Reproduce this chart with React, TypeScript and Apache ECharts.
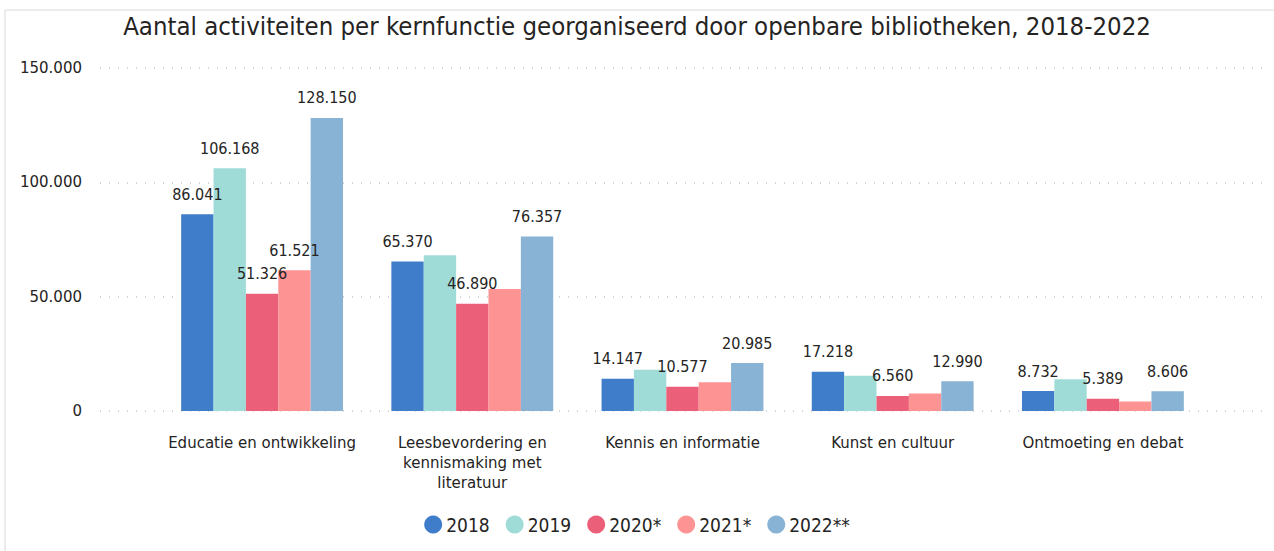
import React, { useEffect, useRef } from "react";
import * as echarts from "echarts";

const title = "Aantal activiteiten per kernfunctie georganiseerd door openbare bibliotheken, 2018-2022";
const categories = [
  "Educatie en ontwikkeling",
  "Leesbevordering en\nkennismaking met\nliteratuur",
  "Kennis en informatie",
  "Kunst en cultuur",
  "Ontmoeting en debat",
];
const seriesNames = ["2018", "2019", "2020*", "2021*", "2022**"];
const v2018 = [86041, 65370, 14147, 17218, 8732];
const v2019 = [106168, 68100, 18000, 15400, 13900];
const v2020 = [51326, 46890, 10577, 6560, 5389];
const v2021 = [61521, 53400, 12600, 7600, 4100];
const v2022 = [128150, 76357, 20985, 12990, 8606];
const seriesValues = [v2018, v2019, v2020, v2021, v2022];
// which data labels are shown per category (the reference hides overlapping ones)
const labelShown = [
  [true, true, true, true, true],
  [true, false, true, false, true],
  [true, false, true, false, true],
  [true, false, true, false, true],
  [true, false, true, false, true],
];
const yTicks = [0, 50000, 100000, 150000];
const colors = ["#3F7CC9", "#A0DCD7", "#EC5F78", "#FE9393", "#89B3D4"];

const fmt = (n: number) => String(Math.round(n)).replace(/\B(?=(\d{3})+(?!\d))/g, ".");

export default function App() {
  const ref = useRef<HTMLDivElement>(null);
  useEffect(() => {
    if (!ref.current) return;
    const chart = echarts.init(ref.current, null, { renderer: "svg" });
    const yMax = yTicks[yTicks.length - 1];
    const yInterval = yTicks[1] - yTicks[0];
    chart.setOption({
      animation: false,
      backgroundColor: "#ffffff",
      graphic: [
        { type: "line", shape: { x1: 5, y1: 10, x2: 1274, y2: 10 }, style: { stroke: "#E6E6E6", lineWidth: 1.5 }, silent: true },
        { type: "line", shape: { x1: 5, y1: 10, x2: 5, y2: 551 }, style: { stroke: "#E6E6E6", lineWidth: 1.5 }, silent: true },
      ],
      title: {
        text: title,
        left: "center",
        top: 8,
        textStyle: { fontFamily: "DejaVu Sans Condensed", fontSize: 25.5, fontWeight: "normal", color: "#252423" },
      },
      legend: {
        data: seriesNames,
        bottom: 12,
        left: "center",
        icon: "circle",
        itemWidth: 18,
        itemHeight: 18,
        itemGap: 16,
        textStyle: { fontFamily: "DejaVu Sans Condensed", fontSize: 19, color: "#252423", padding: [0, 0, 0, -1] },
      },
      grid: [
        { left: 157, right: 66, top: 68, bottom: 140 },
        { left: 100, right: 4, top: 68, bottom: 140 },
      ],
      xAxis: [
        {
          type: "category",
          gridIndex: 0,
          data: categories,
          axisLine: { show: false },
          axisTick: { show: false },
          axisLabel: {
            margin: 22,
            fontFamily: "DejaVu Sans",
            fontSize: 15,
            lineHeight: 20,
            color: "#252423",
            interval: 0,
          },
        },
        { type: "category", gridIndex: 1, data: [], show: false },
      ],
      yAxis: [
        { type: "value", gridIndex: 0, min: 0, max: yMax, interval: yInterval, show: false },
        {
          type: "value",
          gridIndex: 1,
          min: 0,
          max: yMax,
          interval: yInterval,
          axisLine: { show: false },
          axisTick: { show: false },
          axisLabel: {
            margin: 18,
            fontFamily: "DejaVu Sans",
            fontSize: 15,
            color: "#252423",
            formatter: (v: number) => fmt(v),
          },
          splitLine: { lineStyle: { color: "#C8C8C8", type: [1, 8], width: 1.5 } },
        },
      ],
      series: seriesNames.map((name, si) => ({
        name,
        type: "bar",
        xAxisIndex: 0,
        yAxisIndex: 0,
        barGap: "0%",
        barCategoryGap: "23%",
        itemStyle: { color: colors[si] },
        data: seriesValues[si].map((v, ci) => ({
          value: v,
          label: { show: labelShown[ci][si] },
        })),
        label: {
          show: true,
          position: "top",
          distance: 12,
          fontFamily: "DejaVu Sans Condensed",
          fontSize: 16,
          color: "#252423",
          formatter: (p: any) => fmt(p.value),
        },
      })),
    });
    return () => chart.dispose();
  }, []);
  return (
    <div
      ref={ref}
      style={{ position: "absolute", left: 0, top: 0, width: 1274, height: 551 }}
    />
  );
}
